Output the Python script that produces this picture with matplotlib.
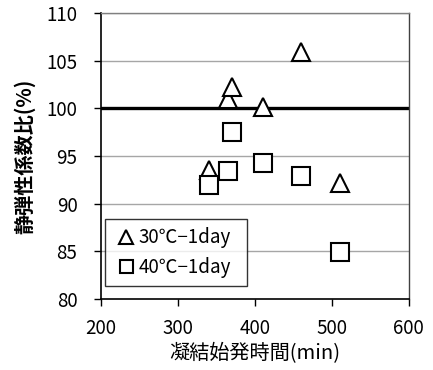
import matplotlib
matplotlib.use("Agg")
import matplotlib.pyplot as plt

plt.rcParams['font.family'] = ['Noto Sans CJK JP', 'DejaVu Sans']

# data
x_30 = [340, 365, 370, 410, 460, 510]
y_30 = [93.5, 101.0, 102.2, 100.1, 105.9, 92.2]
x_40 = [340, 365, 370, 410, 460, 510]
y_40 = [92.0, 93.4, 97.5, 94.3, 92.85, 84.9]
label_30 = "30℃−1day"
label_40 = "40℃−1day"
xticks = [200, 300, 400, 500, 600]
yticks = [80, 85, 90, 95, 100, 105, 110]
ref_value = 100

fig = plt.figure(figsize=(4.33, 3.70), dpi=100)
ax = fig.add_axes([0.2333, 0.1919, 0.7107, 0.7730])

for yv in yticks[1:]:
    if yv != ref_value:
        ax.axhline(yv, color='#A6A6A6', lw=1.0, zorder=1)
ax.axhline(ref_value, color='black', lw=2.4, zorder=2)

ax.plot(x_30, y_30, linestyle='none', marker='^', markersize=13.5,
        markerfacecolor='white', markeredgecolor='black', markeredgewidth=1.5,
        label=label_30, zorder=3)
ax.plot(x_40, y_40, linestyle='none', marker='s', markersize=13,
        markerfacecolor='white', markeredgecolor='black', markeredgewidth=1.5,
        label=label_40, zorder=3)

ax.set_xlim(200, 600)
ax.set_ylim(80, 110)
ax.set_xticks(xticks)
ax.set_yticks(yticks)
ax.tick_params(axis='both', direction='out', length=5, width=1, labelsize=13.5,
               color='black')
ax.tick_params(axis='y', pad=12)
ax.tick_params(axis='x', pad=8.5)

for s in ['left', 'bottom']:
    ax.spines[s].set_color('black')
    ax.spines[s].set_linewidth(1.2)
ax.spines['right'].set_color('#404040')
ax.spines['right'].set_linewidth(1.0)
ax.spines['top'].set_color('#808080')
ax.spines['top'].set_linewidth(1.0)

ax.set_xlabel("凝結始発時間(min)", fontsize=14.5, labelpad=3)
ax.set_ylabel("静弾性係数比(%)", fontsize=14.5, fontweight='bold', labelpad=8)

leg = ax.legend(loc='lower left', bbox_to_anchor=(0.013, 0.045, 0.463, 0.229),
                mode='expand', frameon=True, fancybox=False, edgecolor='black',
                fontsize=13.5, markerscale=0.72, handlelength=1.3, handletextpad=0.05,
                borderpad=0.45, labelspacing=0.45, borderaxespad=0)
leg.get_frame().set_linewidth(1.0)

fig.savefig("out.png", dpi=100)
